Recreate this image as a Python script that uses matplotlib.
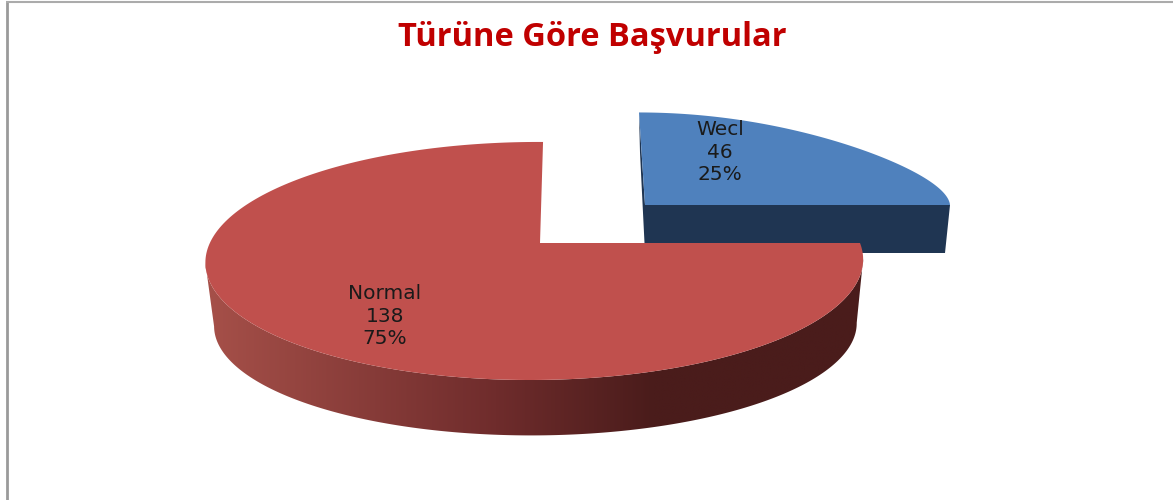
# -*- coding: utf-8 -*-
"""Türüne Göre Başvurular - 3D görünümlü pasta grafik."""

import matplotlib
matplotlib.use("Agg")
import matplotlib.pyplot as plt
import numpy as np
from matplotlib.colors import LinearSegmentedColormap
from matplotlib.patches import Polygon

title = "Türüne Göre Başvurular"
categories = ["Wecl", "Normal"]
values = [46, 138]
percent_labels = ["25%", "75%"]

shares = np.array(values) / sum(values)
ends = np.cumsum(shares) * 2 * np.pi
starts = ends - shares * 2 * np.pi


def project(theta, view):
    """Disk üzerindeki açıyı perspektifle piksel koordinatına çevirir (saat yönünde, tepeden)."""
    u = np.sin(theta)
    v = np.cos(theta)
    wx = 1 + view["kx"] * v + view["j"] * u
    wy = 1 + view["ky"] * v + view["j"] * u
    x = view["cx"] + (view["rx"] * u + view["shear"] * v) / wx
    y = view["cy"] - view["ry"] * v / wy
    return x, y


def slice_outline(start, end, view):
    theta = np.linspace(start, end, 240)
    x, y = project(theta, view)
    return np.r_[view["cx"], x], np.r_[view["cy"], y]


fig = plt.figure(figsize=(11.73, 5), dpi=100)
ax = fig.add_axes([0, 0, 1, 1])

# dış çerçeve
ax.plot([7, 7], [2, 500], color="#9a9a9a", lw=2.0, solid_capstyle="butt")
ax.plot([6, 1173], [2, 2], color="#ababab", lw=1.5, solid_capstyle="butt")

# Wecl dilimi (dışarı çekilmiş)
wecl_view = dict(cx=645, cy=205, rx=305, ry=62, kx=0.0, ky=-0.33, j=0.0, shear=-6)
wecl_depth = 48
x_top, y_top = project(np.array([starts[0], ends[0]]), wecl_view)
ax.fill([x_top[0], wecl_view["cx"], wecl_view["cx"], x_top[0] + 1],
        [y_top[0], wecl_view["cy"], wecl_view["cy"] + wecl_depth, y_top[0] + 40],
        color="#1f3552", lw=0)
ax.fill([wecl_view["cx"], x_top[1], x_top[1] - 5, wecl_view["cx"]],
        [wecl_view["cy"], y_top[1], y_top[1] + wecl_depth, wecl_view["cy"] + wecl_depth],
        color="#1f3552", lw=0)
x_s, y_s = slice_outline(starts[0], ends[0], wecl_view)
ax.fill(x_s, y_s, color="#4f81bd", lw=0)

# Normal dilimi: önce yan duvar (yatay renk geçişi), sonra üst yüz
normal_view = dict(cx=540, cy=243, rx=325, ry=116.3, kx=0.151, ky=0.151, j=0.0156, shear=3.5)
wall_end = starts[1] + np.radians(195)
theta = np.linspace(starts[1], wall_end, 400)
x_up, y_up = project(theta, normal_view)
x_low = normal_view["cx"] + 1 + (x_up - normal_view["cx"]) * 0.977
y_low = normal_view["cy"] + 65 + (y_up - normal_view["cy"]) * 0.93

# üst kenar ile alt kenarı en uç noktalarından birleştir
right_i = np.argmax(x_up)
left_i = np.argmin(x_up)
wall_x = np.r_[x_up[right_i:left_i + 1], x_low[right_i:left_i + 1][::-1]]
wall_y = np.r_[y_up[right_i:left_i + 1], y_low[right_i:left_i + 1][::-1]]

wall_cmap = LinearSegmentedColormap.from_list(
    "wall", [(0.0, "#a65049"), (0.44, "#6f2c2c"), (0.68, "#4a1c1b"), (1.0, "#4a1c1b")])
wall = Polygon(np.c_[wall_x, wall_y], closed=True, facecolor="none", edgecolor="none")
ax.add_patch(wall)
gradient = np.linspace(0, 1, 512).reshape(1, -1)
image = ax.imshow(gradient, cmap=wall_cmap, extent=(205, 865, 440, 240), aspect="auto",
                  interpolation="bilinear")
image.set_clip_path(wall)

x_s, y_s = slice_outline(starts[1], ends[1], normal_view)
ax.fill(x_s, y_s, color="#c0504d", lw=0)

# etiketler
label_pos = [(720, 152), (385, 316)]
for name, value, pct, (lx, ly) in zip(categories, values, percent_labels, label_pos):
    ax.text(lx, ly, f"{name}\n{value}\n{pct}", ha="center", va="center",
            fontsize=14.5, color="#1a1a1a", family="DejaVu Sans", linespacing=1.22)

ax.text(592, 46, title, ha="center", va="baseline", fontsize=23.5, fontweight="bold",
        color="#c00000", family="Open Sans")

ax.set_xlim(0, 1173)
ax.set_ylim(500, 0)
ax.axis("off")

fig.savefig("out.png", dpi=100)
plt.close(fig)
